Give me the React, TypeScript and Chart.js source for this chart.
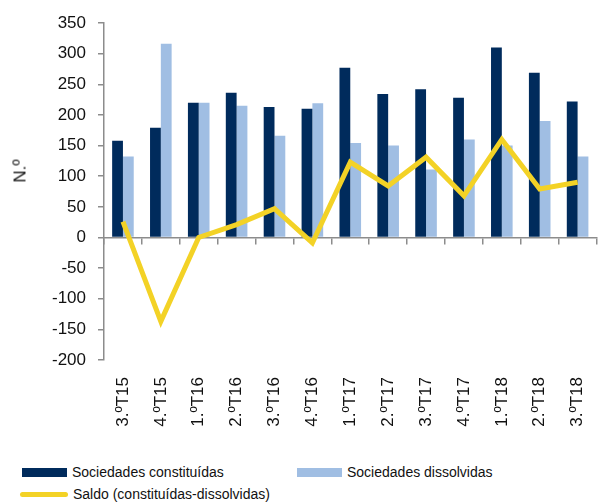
import React, { useEffect, useRef } from "react";
import { Chart, registerables } from "chart.js";

Chart.register(...registerables);

const categories = ["3.ºT15", "4.ºT15", "1.ºT16", "2.ºT16", "3.ºT16", "4.ºT16", "1.ºT17", "2.ºT17", "3.ºT17", "4.ºT17", "1.ºT18", "2.ºT18", "3.ºT18"];
const constituidas = [158, 179, 220, 236, 213, 210, 277, 234, 242, 228, 310, 269, 222];
const dissolvidas = [132, 316, 220, 215, 166, 219, 154, 150, 111, 160, 150, 190, 132];
const saldo = [26, -137, 0, 21, 47, -9, 123, 84, 131, 68, 160, 79, 90];

const yTicks = { min: -200, max: 350, step: 50 };
const seriesNames = ["Sociedades constituídas", "Sociedades dissolvidas", "Saldo (constituídas-dissolvidas)"];
const yTitle = "N.º";

const DARK = "#002B5C";
const LIGHT = "#A0BEE3";
const YELLOW = "#F3D226";
const AXIS = "#8C8C8C";
const FONT = "'Liberation Sans', Arial, sans-serif";

export default function App() {
  const ref = useRef<HTMLCanvasElement | null>(null);
  useEffect(() => {
    if (!ref.current) return;
    const chart = new Chart(ref.current, {
      type: "bar",
      data: {
        labels: categories,
        datasets: [
          { type: "line", label: seriesNames[2], data: saldo, borderColor: YELLOW, backgroundColor: YELLOW, borderWidth: 5, pointRadius: 0, tension: 0, order: 0, borderJoinStyle: "miter" } as any,
          { label: seriesNames[0], data: constituidas, backgroundColor: DARK, categoryPercentage: 0.57, barPercentage: 1, order: 1 },
          { label: seriesNames[1], data: dissolvidas, backgroundColor: LIGHT, categoryPercentage: 0.57, barPercentage: 1, order: 1 },
        ],
      },
      options: {
        animation: false,
        responsive: false,
        maintainAspectRatio: false,
        layout: { padding: { top: 23, left: 0, right: 0, bottom: 0 } },
        plugins: { legend: { display: false }, tooltip: { enabled: false } },
        scales: {
          x: {
            grid: { display: false },
            border: { display: false },
            ticks: { autoSkip: false, minRotation: 90, maxRotation: 90, padding: 9, color: "#111", font: { family: FONT, size: 17 } },
            afterFit: (s: any) => { s.height = 80; },
          },
          x2: {
            type: "category",
            position: { y: 0 } as any,
            offset: true,
            grid: { display: true, offset: true, drawOnChartArea: false, drawTicks: true, tickLength: 6, color: AXIS, lineWidth: 1.5 },
            border: { display: true, color: AXIS, width: 1.5 },
            ticks: { display: false },
          },
          y: {
            min: yTicks.min,
            max: yTicks.max,
            ticks: { stepSize: yTicks.step, padding: 12, color: "#111", font: { family: FONT, size: 17 } },
            grid: { display: true, drawOnChartArea: false, drawTicks: true, tickLength: 6, color: AXIS, lineWidth: 1.5 },
            border: { display: true, color: AXIS, width: 1.5 },
            afterFit: (s: any) => { s.width = 104; },
          },
        },
      },
    });
    return () => chart.destroy();
  }, []);

  const legendItem = (left: number, top: number, color: string, text: string, isLine: boolean) => (
    <div style={{ position: "absolute", left, top, display: "flex", alignItems: "center", fontFamily: FONT, fontSize: 14, color: "#111", whiteSpace: "nowrap" }}>
      <div style={{ width: isLine ? 48 : 45, height: isLine ? 5 : 9, background: color, borderRadius: isLine ? 3 : 0, marginRight: 5 }} />
      <span>{text}</span>
    </div>
  );

  return (
    <div style={{ position: "fixed", left: 0, top: 0, width: 598, height: 502, overflow: "hidden", background: "#fff" }}>
      <canvas ref={ref} width={607} height={440} style={{ position: "absolute", left: 0, top: 0, width: 607, height: 440 }} />
      <div style={{ position: "absolute", left: 20, top: 171, transform: "translate(-50%, -50%) rotate(-90deg)", fontFamily: FONT, fontSize: 17, color: "#111", whiteSpace: "nowrap", lineHeight: 1 }}>{yTitle}</div>
      {legendItem(22, 464, DARK, seriesNames[0], false)}
      {legendItem(297, 464, LIGHT, seriesNames[1], false)}
      {legendItem(20, 486, YELLOW, seriesNames[2], true)}
    </div>
  );
}
